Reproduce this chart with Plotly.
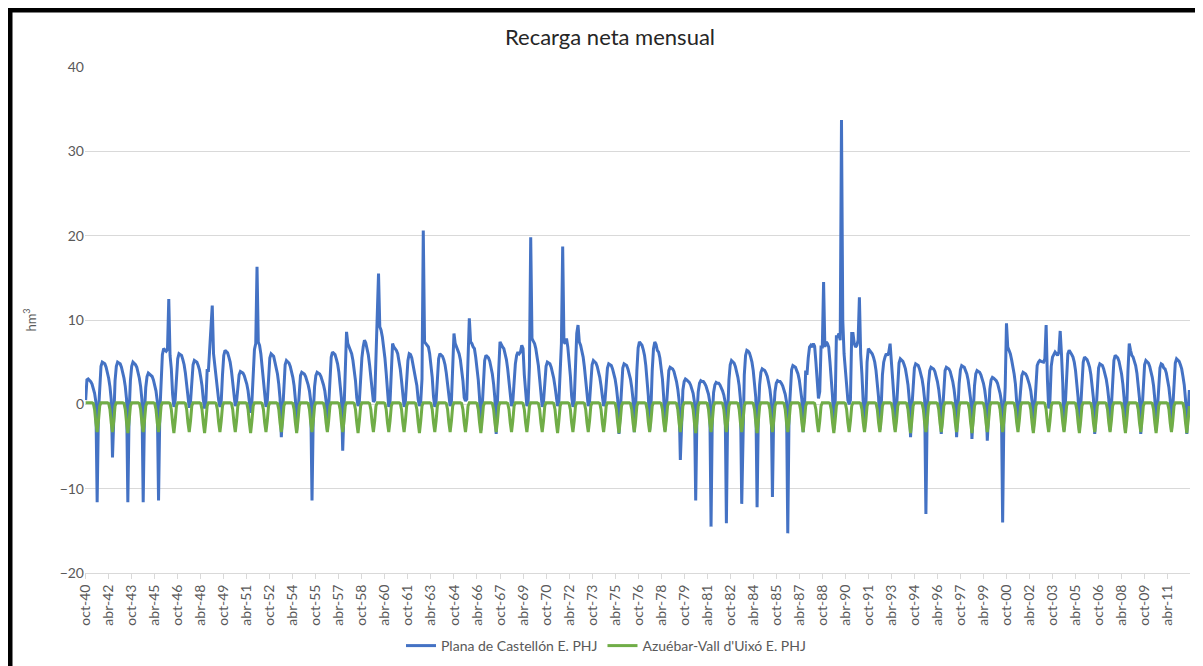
import plotly.graph_objects as go

# hydrological years oct-40 .. sep-12, one row per year (oct..sep), hm3
meses = ["oct", "nov", "dic", "ene", "feb", "mar", "abr", "may", "jun", "jul", "ago", "sep"]
first_year = 1940

plana = [
    [0.5, 2.9, 3.0, 2.9, 2.7, 2.4, 1.9, 1.3, 0.3, -11.6, -1.0, 2.8],
    [4.5, 5.0, 4.9, 4.8, 4.4, 3.9, 3.1, 2.1, 0.6, -6.3, -0.8, 2.8],
    [4.5, 5.0, 4.9, 4.8, 4.4, 3.9, 3.1, 2.1, 0.6, -11.6, -1.0, 2.8],
    [4.5, 5.0, 4.9, 4.7, 4.4, 3.9, 3.1, 2.1, 0.6, -11.6, -1.0, 2.0],
    [3.3, 3.7, 3.6, 3.5, 3.3, 2.9, 2.3, 1.6, 0.4, -11.4, -1.0, 3.6],
    [5.9, 6.6, 6.4, 6.3, 6.5, 12.5, 5.8, 4.2, 1.2, -0.3, 0.5, 3.3],
    [5.4, 6.0, 5.9, 5.8, 5.3, 4.7, 3.7, 2.5, 0.7, -0.4, 0.3, 2.9],
    [4.7, 5.2, 5.1, 5.0, 4.6, 4.1, 3.2, 2.2, 0.6, -0.5, 0.3, 4.0],
    [4.0, 6.5, 7.9, 11.7, 6.0, 4.5, 3.0, 1.8, 0.5, -0.3, 0.3, 3.5],
    [5.8, 6.4, 6.3, 6.1, 5.6, 5.0, 4.0, 2.7, 0.8, -0.2, 0.3, 2.1],
    [3.5, 3.9, 3.8, 3.7, 3.4, 3.0, 2.4, 1.6, 0.5, -1.0, 0.3, 4.0],
    [6.5, 7.2, 16.3, 7.4, 7.0, 6.0, 4.5, 3.0, 0.8, -0.3, 0.3, 3.3],
    [5.5, 6.0, 5.9, 5.7, 5.0, 4.4, 3.6, 2.4, 0.7, -3.9, -0.5, 2.9],
    [4.7, 5.2, 5.1, 4.9, 4.5, 4.0, 3.2, 2.2, 0.6, -3.1, -0.5, 2.1],
    [3.4, 3.8, 3.7, 3.6, 3.3, 2.9, 2.3, 1.6, 0.4, -11.4, -1.0, 2.1],
    [3.4, 3.8, 3.7, 3.6, 3.3, 2.9, 2.3, 1.6, 0.4, -3.1, -0.5, 3.4],
    [5.6, 6.2, 6.1, 5.9, 5.4, 4.8, 3.8, 2.6, 0.7, -5.5, -0.5, 4.5],
    [8.6, 7.2, 6.8, 6.6, 6.0, 5.2, 4.1, 2.8, 0.8, -0.2, 0.3, 3.8],
    [5.5, 6.8, 7.6, 7.3, 6.6, 5.9, 4.7, 3.2, 1.0, 0.3, 0.5, 6.0],
    [9.6, 15.5, 9.2, 8.8, 8.0, 7.0, 5.5, 3.7, 1.0, -0.3, 0.3, 4.0],
    [7.2, 6.8, 6.6, 6.4, 6.0, 5.3, 4.2, 2.8, 0.8, -0.3, 0.3, 3.3],
    [5.2, 6.0, 5.9, 5.5, 4.6, 4.0, 3.3, 2.2, 0.6, -0.2, 0.3, 3.0],
    [20.6, 7.4, 7.2, 6.9, 6.8, 6.0, 4.8, 3.2, 0.9, -0.3, 0.3, 3.3],
    [5.4, 6.0, 5.9, 5.7, 5.3, 4.7, 3.7, 2.5, 0.7, -0.2, 0.3, 4.5],
    [8.4, 7.2, 6.8, 6.6, 6.0, 5.3, 4.2, 2.8, 0.8, 0.4, 0.6, 5.0],
    [10.2, 7.4, 7.2, 6.8, 6.6, 5.6, 4.4, 2.9, 0.8, -3.1, -0.5, 3.2],
    [5.2, 5.8, 5.7, 5.5, 5.1, 4.5, 3.6, 2.4, 0.7, -3.5, -0.5, 4.1],
    [7.4, 7.0, 6.8, 6.6, 6.1, 5.3, 4.2, 2.8, 0.8, -0.2, 0.3, 3.4],
    [4.8, 5.8, 6.2, 6.0, 6.2, 7.0, 6.6, 3.5, 0.9, -0.2, 0.3, 4.5],
    [19.8, 7.8, 7.5, 7.2, 6.6, 5.8, 4.6, 3.0, 0.9, -0.3, 0.3, 2.8],
    [4.5, 5.0, 4.9, 4.8, 4.4, 3.9, 3.1, 2.1, 0.6, -0.2, 0.3, 4.0],
    [7.2, 18.7, 7.4, 7.2, 7.8, 6.8, 5.2, 3.4, 1.0, -0.3, 0.3, 4.6],
    [8.4, 9.4, 7.4, 7.0, 6.4, 5.6, 4.4, 2.9, 0.8, -0.2, 0.3, 2.9],
    [4.7, 5.2, 5.1, 4.9, 4.5, 4.0, 3.2, 2.2, 0.6, -0.2, 0.3, 2.6],
    [4.3, 4.8, 4.7, 4.6, 4.2, 3.7, 3.0, 2.0, 0.6, -3.5, -0.5, 2.6],
    [4.3, 4.8, 4.7, 4.6, 4.2, 3.7, 3.0, 2.0, 0.6, -3.3, -0.5, 4.0],
    [6.7, 7.4, 7.2, 7.0, 6.5, 5.8, 4.6, 3.1, 0.9, -3.1, -0.5, 4.0],
    [6.6, 7.4, 7.1, 6.4, 6.2, 5.5, 4.4, 3.0, 0.8, -3.1, -0.5, 2.4],
    [4.0, 4.4, 4.3, 4.2, 3.9, 3.4, 2.7, 1.8, 0.5, -6.6, -0.8, 1.7],
    [2.7, 3.0, 2.9, 2.8, 2.6, 2.3, 1.9, 1.3, 0.3, -11.4, -1.0, 1.5],
    [2.5, 2.8, 2.7, 2.7, 2.5, 2.2, 1.7, 1.2, 0.3, -14.5, -1.2, 1.4],
    [2.3, 2.6, 2.5, 2.5, 2.3, 2.0, 1.6, 1.1, 0.3, -14.1, -1.2, 2.9],
    [4.7, 5.2, 5.1, 4.9, 4.5, 4.0, 3.2, 2.2, 0.6, -11.8, -1.0, 3.5],
    [5.8, 6.4, 6.3, 6.1, 5.6, 5.0, 4.0, 2.7, 0.8, -12.2, -1.0, 2.3],
    [3.8, 4.2, 4.1, 4.0, 3.7, 3.3, 2.6, 1.8, 0.5, -11.0, -1.0, 1.5],
    [2.5, 2.8, 2.7, 2.7, 2.5, 2.2, 1.7, 1.2, 0.3, -15.3, -1.2, 2.5],
    [4.1, 4.6, 4.5, 4.4, 4.0, 3.6, 2.9, 1.9, 0.6, -3.3, -0.5, 4.0],
    [3.5, 5.5, 6.8, 7.0, 6.8, 7.2, 6.9, 5.0, 2.0, 0.7, 1.5, 6.8],
    [6.8, 14.5, 6.8, 7.4, 7.2, 6.8, 5.0, 3.2, 0.9, -3.0, -0.5, 8.0],
    [8.0, 8.4, 7.6, 33.7, 10.0, 6.0, 3.8, 2.0, 0.5, 0.0, 0.5, 8.4],
    [8.4, 7.2, 6.8, 7.0, 7.6, 12.7, 6.0, 3.5, 0.9, -3.0, -0.5, 5.0],
    [6.6, 6.4, 6.2, 6.0, 5.6, 5.0, 4.0, 2.7, 0.8, -3.0, -0.5, 3.5],
    [5.0, 5.6, 6.0, 5.8, 6.2, 7.2, 5.5, 3.0, 0.8, -3.0, -0.5, 3.0],
    [4.9, 5.4, 5.3, 5.1, 4.7, 4.2, 3.3, 2.3, 0.6, -3.9, -0.5, 2.6],
    [4.3, 4.8, 4.7, 4.6, 4.2, 3.7, 3.0, 2.0, 0.6, -13.0, -1.0, 2.4],
    [4.0, 4.4, 4.3, 4.2, 3.9, 3.4, 2.7, 1.8, 0.5, -3.5, -0.5, 2.4],
    [4.0, 4.4, 4.3, 4.2, 3.9, 3.4, 2.7, 1.8, 0.5, -3.9, -0.5, 2.5],
    [4.1, 4.6, 4.5, 4.4, 4.0, 3.6, 2.9, 1.9, 0.6, -4.1, -0.5, 2.2],
    [3.6, 4.0, 3.9, 3.8, 3.5, 3.1, 2.5, 1.7, 0.5, -4.3, -0.5, 1.8],
    [2.9, 3.2, 3.1, 3.0, 2.8, 2.5, 2.0, 1.3, 0.4, -14.0, -1.2, 2.0],
    [9.6, 6.8, 6.4, 6.0, 5.3, 4.6, 3.6, 2.4, 0.7, -1.9, -0.3, 2.1],
    [3.4, 3.8, 3.7, 3.6, 3.3, 2.9, 2.3, 1.6, 0.4, -3.1, -0.5, 2.9],
    [4.6, 5.0, 5.2, 5.1, 5.0, 5.0, 5.4, 9.4, 3.0, -0.5, 0.5, 4.5],
    [5.6, 6.0, 6.2, 6.0, 5.8, 6.2, 8.7, 6.0, 2.5, -3.1, -0.5, 3.5],
    [6.0, 6.4, 6.2, 5.9, 5.6, 5.0, 4.0, 2.7, 0.8, -3.1, -0.5, 3.1],
    [5.0, 5.6, 5.5, 5.3, 4.9, 4.4, 3.5, 2.4, 0.7, -3.5, -0.5, 2.6],
    [4.3, 4.8, 4.7, 4.6, 4.2, 3.7, 3.0, 2.0, 0.6, -3.1, -0.5, 3.2],
    [5.2, 5.8, 5.7, 5.5, 5.1, 4.5, 3.6, 2.4, 0.7, -3.1, -0.5, 4.0],
    [7.2, 6.4, 5.8, 5.6, 5.2, 4.6, 3.7, 2.5, 0.7, -3.5, -0.5, 2.9],
    [4.7, 5.2, 5.1, 4.9, 4.5, 4.0, 3.2, 2.2, 0.6, -3.1, -0.5, 2.6],
    [4.3, 4.8, 4.7, 4.3, 4.2, 3.7, 3.0, 2.0, 0.6, -3.1, -0.5, 3.0],
    [4.9, 5.4, 5.3, 5.1, 4.7, 4.2, 3.3, 2.3, 0.6, -3.5, -1.0, 1.7],
]

azuebar = [
    [0.2, 0.2, 0.2, 0.2, 0.2, 0.2, 0.1, -0.6, -2.2, -3.3, -2.0, -0.2],
    [0.2, 0.2, 0.2, 0.2, 0.2, 0.2, 0.1, -0.6, -2.2, -3.3, -2.0, -0.2],
    [0.2, 0.2, 0.2, 0.2, 0.2, 0.2, 0.1, -0.6, -2.2, -3.4, -2.0, -0.2],
    [0.2, 0.2, 0.2, 0.2, 0.2, 0.2, 0.1, -0.6, -2.2, -3.3, -2.0, -0.2],
    [0.2, 0.2, 0.2, 0.2, 0.2, 0.2, 0.1, -0.6, -2.2, -3.3, -2.0, -0.2],
    [0.2, 0.2, 0.2, 0.2, 0.2, 0.2, 0.1, -0.6, -2.2, -3.4, -2.0, -0.2],
    [0.2, 0.2, 0.2, 0.2, 0.2, 0.2, 0.1, -0.6, -2.2, -3.3, -2.0, -0.2],
    [0.2, 0.2, 0.2, 0.2, 0.2, 0.2, 0.1, -0.6, -2.2, -3.4, -2.0, -0.2],
    [0.2, 0.2, 0.2, 0.2, 0.2, 0.2, 0.1, -0.6, -2.2, -3.3, -2.0, -0.2],
    [0.2, 0.2, 0.2, 0.2, 0.2, 0.2, 0.1, -0.6, -2.2, -3.3, -2.0, -0.2],
    [0.2, 0.2, 0.2, 0.2, 0.2, 0.2, 0.1, -0.6, -2.2, -3.4, -2.0, -0.2],
    [0.2, 0.2, 0.2, 0.2, 0.2, 0.2, 0.1, -0.6, -2.2, -3.3, -2.0, -0.2],
    [0.2, 0.2, 0.2, 0.2, 0.2, 0.2, 0.1, -0.6, -2.2, -3.3, -2.0, -0.2],
    [0.2, 0.2, 0.2, 0.2, 0.2, 0.2, 0.1, -0.6, -2.2, -3.4, -2.0, -0.2],
    [0.2, 0.2, 0.2, 0.2, 0.2, 0.2, 0.1, -0.6, -2.2, -3.3, -2.0, -0.2],
    [0.2, 0.2, 0.2, 0.2, 0.2, 0.2, 0.1, -0.6, -2.2, -3.3, -2.0, -0.2],
    [0.2, 0.2, 0.2, 0.2, 0.2, 0.2, 0.1, -0.6, -2.2, -3.3, -2.0, -0.2],
    [0.2, 0.2, 0.2, 0.2, 0.2, 0.2, 0.1, -0.6, -2.2, -3.4, -2.0, -0.2],
    [0.2, 0.2, 0.2, 0.2, 0.2, 0.2, 0.1, -0.6, -2.2, -3.3, -2.0, -0.2],
    [0.2, 0.2, 0.2, 0.2, 0.2, 0.2, 0.1, -0.6, -2.2, -3.3, -2.0, -0.2],
    [0.2, 0.2, 0.2, 0.2, 0.2, 0.2, 0.1, -0.6, -2.2, -3.3, -2.0, -0.2],
    [0.2, 0.2, 0.2, 0.2, 0.2, 0.2, 0.1, -0.6, -2.2, -3.4, -2.0, -0.2],
    [0.2, 0.2, 0.2, 0.2, 0.2, 0.2, 0.1, -0.6, -2.2, -3.3, -2.0, -0.2],
    [0.2, 0.2, 0.2, 0.2, 0.2, 0.2, 0.1, -0.6, -2.2, -3.3, -2.0, -0.2],
    [0.2, 0.2, 0.2, 0.2, 0.2, 0.2, 0.1, -0.6, -2.2, -3.3, -2.0, -0.2],
    [0.2, 0.2, 0.2, 0.2, 0.2, 0.2, 0.1, -0.6, -2.2, -3.4, -2.0, -0.2],
    [0.2, 0.2, 0.2, 0.2, 0.2, 0.2, 0.1, -0.6, -2.2, -3.3, -2.0, -0.2],
    [0.2, 0.2, 0.2, 0.2, 0.2, 0.2, 0.1, -0.6, -2.2, -3.3, -2.0, -0.2],
    [0.2, 0.2, 0.2, 0.2, 0.2, 0.2, 0.1, -0.6, -2.2, -3.3, -2.0, -0.2],
    [0.2, 0.2, 0.2, 0.2, 0.2, 0.2, 0.1, -0.6, -2.2, -3.3, -2.0, -0.2],
    [0.2, 0.2, 0.2, 0.2, 0.2, 0.2, 0.1, -0.6, -2.2, -3.4, -2.0, -0.2],
    [0.2, 0.2, 0.2, 0.2, 0.2, 0.2, 0.1, -0.6, -2.2, -3.3, -2.0, -0.2],
    [0.2, 0.2, 0.2, 0.2, 0.2, 0.2, 0.1, -0.6, -2.2, -3.3, -2.0, -0.2],
    [0.2, 0.2, 0.2, 0.2, 0.2, 0.2, 0.1, -0.6, -2.2, -3.3, -2.0, -0.2],
    [0.2, 0.2, 0.2, 0.2, 0.2, 0.2, 0.1, -0.6, -2.2, -3.4, -2.0, -0.2],
    [0.2, 0.2, 0.2, 0.2, 0.2, 0.2, 0.1, -0.6, -2.2, -3.3, -2.0, -0.2],
    [0.2, 0.2, 0.2, 0.2, 0.2, 0.2, 0.1, -0.6, -2.2, -3.3, -2.0, -0.2],
    [0.2, 0.2, 0.2, 0.2, 0.2, 0.2, 0.1, -0.6, -2.2, -3.3, -2.0, -0.2],
    [0.2, 0.2, 0.2, 0.2, 0.2, 0.2, 0.1, -0.6, -2.2, -3.3, -2.0, -0.2],
    [0.2, 0.2, 0.2, 0.2, 0.2, 0.2, 0.1, -0.6, -2.2, -3.4, -2.0, -0.2],
    [0.2, 0.2, 0.2, 0.2, 0.2, 0.2, 0.1, -0.6, -2.2, -3.3, -2.0, -0.2],
    [0.2, 0.2, 0.2, 0.2, 0.2, 0.2, 0.1, -0.6, -2.2, -3.3, -2.0, -0.2],
    [0.2, 0.2, 0.2, 0.2, 0.2, 0.2, 0.1, -0.6, -2.2, -3.3, -2.0, -0.2],
    [0.2, 0.2, 0.2, 0.2, 0.2, 0.2, 0.1, -0.6, -2.2, -3.4, -2.0, -0.2],
    [0.2, 0.2, 0.2, 0.2, 0.2, 0.2, 0.1, -0.6, -2.2, -3.3, -2.0, -0.2],
    [0.2, 0.2, 0.2, 0.2, 0.2, 0.2, 0.1, -0.6, -2.2, -3.3, -2.0, -0.2],
    [0.2, 0.2, 0.2, 0.2, 0.2, 0.2, 0.1, -0.6, -2.2, -3.3, -2.0, -0.2],
    [0.2, 0.2, 0.2, 0.2, 0.2, 0.2, 0.1, -0.6, -2.2, -3.3, -2.0, -0.2],
    [0.2, 0.2, 0.2, 0.2, 0.2, 0.2, 0.1, -0.6, -2.2, -3.4, -2.0, -0.2],
    [0.2, 0.2, 0.2, 0.2, 0.2, 0.2, 0.1, -0.6, -2.2, -3.3, -2.0, -0.2],
    [0.2, 0.2, 0.2, 0.2, 0.2, 0.2, 0.1, -0.6, -2.2, -3.3, -2.0, -0.2],
    [0.2, 0.2, 0.2, 0.2, 0.2, 0.2, 0.1, -0.6, -2.2, -3.3, -2.0, -0.2],
    [0.2, 0.2, 0.2, 0.2, 0.2, 0.2, 0.1, -0.6, -2.2, -3.3, -2.0, -0.2],
    [0.2, 0.2, 0.2, 0.2, 0.2, 0.2, 0.1, -0.6, -2.2, -3.4, -2.0, -0.2],
    [0.2, 0.2, 0.2, 0.2, 0.2, 0.2, 0.1, -0.6, -2.2, -3.3, -2.0, -0.2],
    [0.2, 0.2, 0.2, 0.2, 0.2, 0.2, 0.1, -0.6, -2.2, -3.3, -2.0, -0.2],
    [0.2, 0.2, 0.2, 0.2, 0.2, 0.2, 0.1, -0.6, -2.2, -3.3, -2.0, -0.2],
    [0.2, 0.2, 0.2, 0.2, 0.2, 0.2, 0.1, -0.6, -2.2, -3.4, -2.0, -0.2],
    [0.2, 0.2, 0.2, 0.2, 0.2, 0.2, 0.1, -0.6, -2.2, -3.3, -2.0, -0.2],
    [0.2, 0.2, 0.2, 0.2, 0.2, 0.2, 0.1, -0.6, -2.2, -3.3, -2.0, -0.2],
    [0.2, 0.2, 0.2, 0.2, 0.2, 0.2, 0.1, -0.6, -2.2, -3.3, -2.0, -0.2],
    [0.2, 0.2, 0.2, 0.2, 0.2, 0.2, 0.1, -0.6, -2.2, -3.4, -2.0, -0.2],
    [0.2, 0.2, 0.2, 0.2, 0.2, 0.2, 0.1, -0.6, -2.2, -3.3, -2.0, -0.2],
    [0.2, 0.2, 0.2, 0.2, 0.2, 0.2, 0.1, -0.6, -2.2, -3.3, -2.0, -0.2],
    [0.2, 0.2, 0.2, 0.2, 0.2, 0.2, 0.1, -0.6, -2.2, -3.4, -2.0, -0.2],
    [0.2, 0.2, 0.2, 0.2, 0.2, 0.2, 0.1, -0.6, -2.2, -3.3, -2.0, -0.2],
    [0.2, 0.2, 0.2, 0.2, 0.2, 0.2, 0.1, -0.6, -2.2, -3.3, -2.0, -0.2],
    [0.2, 0.2, 0.2, 0.2, 0.2, 0.2, 0.1, -0.6, -2.2, -3.4, -2.0, -0.2],
    [0.2, 0.2, 0.2, 0.2, 0.2, 0.2, 0.1, -0.6, -2.2, -3.3, -2.0, -0.2],
    [0.2, 0.2, 0.2, 0.2, 0.2, 0.2, 0.1, -0.6, -2.2, -3.4, -2.0, -0.2],
    [0.2, 0.2, 0.2, 0.2, 0.2, 0.2, 0.1, -0.6, -2.2, -3.3, -2.0, -0.2],
    [0.2, 0.2, 0.2, 0.2, 0.2, 0.2, 0.1, -0.6, -2.2, -3.4, -2.0, -0.2],
    [0.2, 0.2, 0.2, 0.2, 0.2, 0.2, 0.1, -0.6, -2.2, -3.4, -2.0, -0.2],
]

# category labels like "oct-40", "ene-41", ...
labels = []
for k in range(len(plana)):
    for i, m in enumerate(meses):
        yy = (first_year + k + (1 if i >= 3 else 0)) % 100
        labels.append(f"{m}-{yy:02d}")

y_plana = [v for row in plana for v in row]
y_azu = [v for row in azuebar for v in row]

FONT = "Lato"
GRID = "#d9d9d9"
# the page puts the figure 8px in from the top-left corner
W, H = 1195, 658

fig = go.Figure()
fig.add_trace(go.Scatter(x=labels, y=y_plana, mode="lines",
                         name="Plana de Castellón E. PHJ",
                         line=dict(color="#4472C4", width=3)))
fig.add_trace(go.Scatter(x=labels, y=y_azu, mode="lines",
                         name="Azuébar-Vall d'Uixó E. PHJ",
                         line=dict(color="#70AD47", width=3)))

fig.update_layout(
    width=W, height=H,
    margin=dict(l=77, r=13, t=59, b=93, autoexpand=False),
    paper_bgcolor="white", plot_bgcolor="white",
    font=dict(family=FONT, size=13, color="#595959"),
    title=dict(text="Recarga neta mensual", x=602 / W, xref="container",
               y=1 - 29 / H, yref="container", yanchor="middle", xanchor="center",
               font=dict(family=FONT, size=22, color="#262626")),
    legend=dict(orientation="h", x=598 / W, xanchor="center", xref="container",
                y=1 - 638 / H, yanchor="middle", yref="container",
                font=dict(size=14, color="#595959"), itemwidth=30),
    showlegend=True,
)

fig.update_xaxes(
    type="category", range=[-0.5, len(labels) - 0.5], automargin=False,
    tickmode="array", tickvals=labels[::18], ticktext=labels[::18],
    tickangle=-90, tickfont=dict(size=14, color="#595959"),
    ticks="outside", ticklen=5, tickcolor=GRID,
    showline=True, linecolor=GRID, linewidth=1,
    showgrid=False, zeroline=False,
)
fig.update_yaxes(
    range=[-20, 40], dtick=10, showgrid=True, gridcolor=GRID, gridwidth=1,
    zeroline=False, showline=False, ticks="", automargin=False,
    tickfont=dict(size=14, color="#595959"),
    title=dict(text="hm<sup>3</sup>", font=dict(size=13, color="#595959"), standoff=20),
)

# outer frame of the picture
pw, ph = W - 77 - 13, H - 59 - 93
fx = lambda px: (px - 77) / pw
fy = lambda py: (H - 93 - py) / ph
fig.add_shape(type="line", xref="paper", yref="paper", x0=fx(2), x1=fx(2), y0=fy(H + 5), y1=fy(0),
              line=dict(color="black", width=5))
fig.add_shape(type="line", xref="paper", yref="paper", x0=fx(0), x1=fx(1190), y0=fy(2), y1=fy(2),
              line=dict(color="black", width=5))
fig.add_shape(type="line", xref="paper", yref="paper", x0=fx(1190), x1=fx(1190), y0=fy(H + 5), y1=fy(0),
              line=dict(color="black", width=3))

fig.write_html("out.html")
